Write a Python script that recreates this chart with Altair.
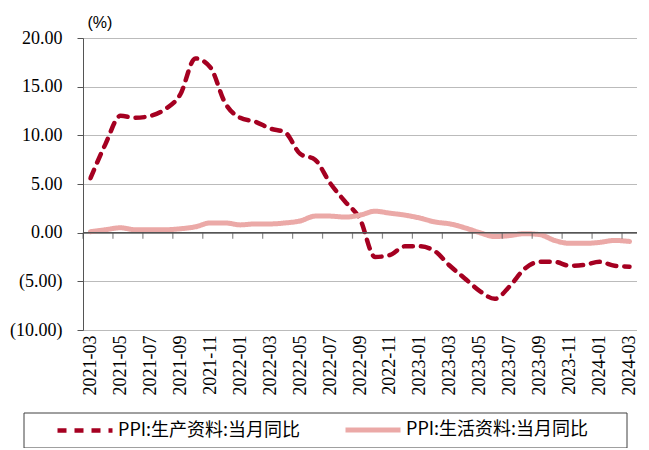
import altair as alt
import pandas as pd

months = ["2021-03","2021-04","2021-05","2021-06","2021-07","2021-08","2021-09","2021-10","2021-11","2021-12",
          "2022-01","2022-02","2022-03","2022-04","2022-05","2022-06","2022-07","2022-08","2022-09","2022-10","2022-11","2022-12",
          "2023-01","2023-02","2023-03","2023-04","2023-05","2023-06","2023-07","2023-08","2023-09","2023-10","2023-11","2023-12",
          "2024-01","2024-02","2024-03"]
production = [5.6, 9.1, 12.0, 11.8, 12.0, 12.7, 14.2, 17.9, 17.0, 13.3,
              11.8, 11.4, 10.7, 10.3, 8.1, 7.5, 5.1, 3.2, 1.4, -2.5, -2.3, -1.4,
              -1.4, -1.9, -3.4, -4.7, -6.0, -6.8, -5.5, -3.7, -3.0, -3.0, -3.4, -3.3,
              -3.0, -3.4, -3.5]
living = [0.1, 0.3, 0.5, 0.3, 0.3, 0.3, 0.4, 0.6, 1.0, 1.0,
          0.8, 0.9, 0.9, 1.0, 1.2, 1.7, 1.7, 1.6, 1.8, 2.2, 2.0, 1.8,
          1.5, 1.1, 0.9, 0.5, 0.0, -0.4, -0.3, -0.1, -0.2, -0.8, -1.1, -1.1,
          -1.0, -0.8, -0.9]
series_names = ["PPI:生产资料:当月同比", "PPI:生活资料:当月同比"]
series_colors = ["#A50021", "#EBA9A7"]
y_ticks = [-10, -5, 0, 5, 10, 15, 20]

rows = []
for i, m in enumerate(months):
    rows.append({"idx": i, "month": m, "series": series_names[0], "value": production[i]})
    rows.append({"idx": i, "month": m, "series": series_names[1], "value": living[i]})
df = pd.DataFrame(rows)

SERIF = "Liberation Serif, Times New Roman, serif"
label_arr = "[" + ",".join("'%s'" % m for m in months) + "]"
x_scale = alt.Scale(domain=[-0.5, len(months) - 0.5], nice=False, zero=False)
y_scale = alt.Scale(domain=[-10, 20], nice=False)

legend_cfg = dict(title=None, orient="none", direction="horizontal",
                  legendX=-28, legendY=362,
                  symbolType="stroke", symbolSize=3025, symbolStrokeWidth=4.5,
                  labelFont="Noto Sans CJK SC", labelFontSize=18, labelColor="#000",
                  labelLimit=400, labelOffset=3, columnPadding=34, padding=0)

x_axis = alt.Axis(values=list(range(0, len(months), 2)), labelExpr=label_arr + "[datum.value]",
                  labelAngle=-90, ticks=False, domain=False, grid=False, title=None,
                  labelOverlap=False, labelFont=SERIF, labelFontSize=18, labelColor="#000",
                  labelPadding=5)
y_axis = alt.Axis(values=y_ticks, title="(%)", titleAngle=0, titleX=4, titleY=-11,
                  titleAlign="left", titleBaseline="alphabetic",
                  titleFont="Liberation Sans", titleFontSize=16, titleFontWeight="normal",
                  titleColor="#000",
                  labelExpr="datum.value < 0 ? '(' + format(-datum.value, '.2f') + ')' : format(datum.value, '.2f')",
                  labelFont=SERIF, labelFontSize=18, labelColor="#000", labelOverlap=False,
                  labelPadding=15, tickSize=6, tickColor="#555", domainColor="#555",
                  grid=True, gridColor="#777", gridDash=[1, 1], gridWidth=1)

lines = alt.Chart(df).mark_line(interpolate="monotone", strokeCap="round").encode(
    x=alt.X("idx:Q", scale=x_scale, axis=x_axis),
    y=alt.Y("value:Q", scale=y_scale, axis=y_axis),
    color=alt.Color("series:N", scale=alt.Scale(domain=series_names, range=series_colors),
                    legend=alt.Legend(**legend_cfg)),
    strokeDash=alt.StrokeDash("series:N", scale=alt.Scale(domain=series_names, range=[[9, 8], [1, 0]]),
                              legend=alt.Legend(**legend_cfg)),
    strokeWidth=alt.StrokeWidth("series:N", scale=alt.Scale(domain=series_names, range=[4.5, 5]), legend=None),
)

zero_rule = alt.Chart(pd.DataFrame({"v": [0]})).mark_rule(color="#555", strokeWidth=1.5).encode(
    y=alt.Y("v:Q", scale=y_scale, axis=y_axis)
)

tick_pos = [i - 0.5 for i in range(0, len(months), 2)]
ticks = alt.Chart(pd.DataFrame({"t": tick_pos, "z": [0] * len(tick_pos)})).mark_tick(
    orient="vertical", size=6, thickness=1.2, color="#555", yOffset=3
).encode(x=alt.X("t:Q", scale=x_scale, axis=x_axis), y=alt.Y("z:Q", scale=y_scale, axis=y_axis))

box = alt.Chart(pd.DataFrame({"a": [0]})).mark_rect(fill=None, stroke="#404040", strokeWidth=1).encode(
    x=alt.value(-59), x2=alt.value(544), y=alt.value(375), y2=alt.value(410)
)

chart = alt.layer(lines, zero_rule, ticks, box).properties(
    width=554, height=292,
    padding={"left": 75, "top": 30, "right": 4, "bottom": 118},
    autosize=alt.AutoSizeParams(type="none"),
).configure_view(stroke=None).configure_axis(
    labelFont=SERIF, labelOverlap=False
).resolve_scale(color="shared")

chart.save("out.html", embed_options={"renderer": "svg", "actions": False})
